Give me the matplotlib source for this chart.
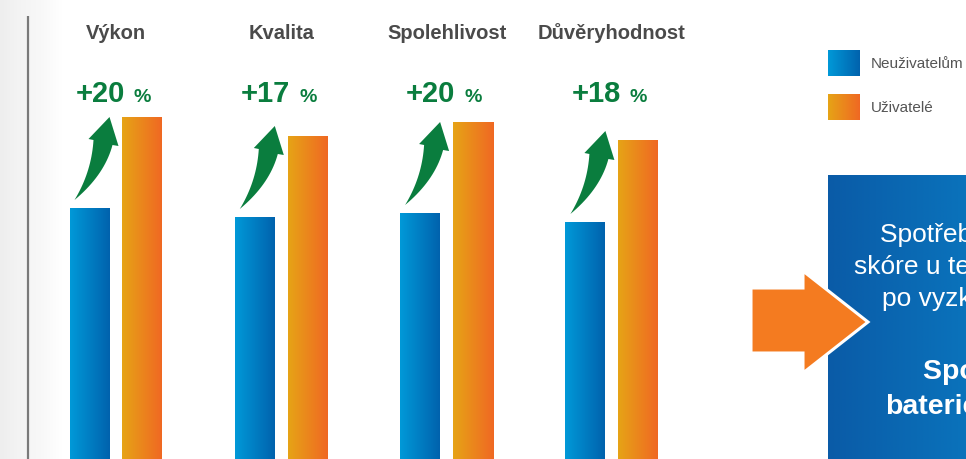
import numpy as np
import matplotlib
matplotlib.use("Agg")
import matplotlib.pyplot as plt
from matplotlib.colors import LinearSegmentedColormap
from matplotlib.patches import Polygon

# data
categories = ["Výkon", "Kvalita", "Spolehlivost", "Důvěryhodnost"]
non_users = [46.7, 45.8, 46.2, 45.3]
users = [55.8, 53.9, 55.3, 53.5]
increase = ["+20", "+17", "+20", "+18"]
legend_labels = ["Neuživatelům", "Uživatelé"]
box_lines = ["Spotřebitelé hodnotí", "skóre u testovaných", "po vyzkoušení"]
box_bold = ["Spokojenost s", "bateriemi"]

W, H = 966, 459
BLUE = ("#0099d8", "#0062ad")
ORANGE = ("#e6a416", "#f06823")
GREEN = "#0a7d3e"
SANS = ["Liberation Sans", "DejaVu Sans"]


def grad(axis, x0, x1, y0, y1, colors, z):
    cmap = LinearSegmentedColormap.from_list("g", list(colors))
    axis.imshow(np.linspace(0, 1, 256)[None, :], extent=[x0, x1, y0, y1],
                cmap=cmap, aspect="auto", origin="lower", zorder=z,
                interpolation="bilinear")


fig = plt.figure(figsize=(W / 100, H / 100), dpi=100)
ax = fig.add_axes([0, 0, 1, 1])
ax.axis("off")

# bar chart (group spacing ~165 px, first group at x=116 px)
step = 165.3
width = 40 / step
off = 26.5 / step
for i in range(len(categories)):
    grad(ax, i - off - width / 2, i - off + width / 2, 0, non_users[i], BLUE, 2)
    grad(ax, i + off - width / 2, i + off + width / 2, 0, users[i], ORANGE, 2)
ax.set_xlim(-116 / step, (W - 116) / step)
ax.set_ylim(21.6, 67.5)

tr = ax.get_xaxis_transform()
for i, cat in enumerate(categories):
    ax.text(i, 1 - 39 / H, cat, transform=tr, ha="center", va="baseline",
            fontsize=14.5, fontweight="bold", color="#4a4a4a", family=SANS)
    ax.annotate(increase[i], xy=(i, 1 - 102 / H), xycoords=tr,
                xytext=(9, 0), textcoords="offset pixels", ha="right",
                va="baseline", fontsize=21, fontweight="bold", color=GREEN,
                family=SANS)
    ax.annotate("%", xy=(i, 1 - 102 / H), xycoords=tr,
                xytext=(18, 0), textcoords="offset pixels", ha="left",
                va="baseline", fontsize=14, fontweight="bold", color=GREEN,
                family=SANS)

# overlay in pixel coords (y down)
ov = fig.add_axes([0, 0, 1, 1], zorder=3)
ov.patch.set_alpha(0)
ov.axis("off")

# left decoration
grad(ov, 0, 62, 0, H, ("#eeeeee", "#f4f4f4", "#f8f8f8", "#ffffff"), 0)
ov.plot([27.5, 27.5], [16, H], color="#7a7a7a", lw=1.6, solid_capstyle="butt")

# green arrows, placed from the blue bar tops
fig.canvas.draw()


def qbez(p0, c, p2, n=20):
    t = np.linspace(0, 1, n)[:, None]
    return (1 - t) ** 2 * np.array(p0) + 2 * (1 - t) * t * np.array(c) + t ** 2 * np.array(p2)


right = qbez((0, 0), (30, 25), (38, 55))
left = qbez((19, 60), (17, 28), (0, 0))
head = np.array([(44, 54), (35, 83), (14, 61)])
shape = np.vstack([right, head, left])
for i in range(len(categories)):
    bx, by = ax.transData.transform((i - off - width / 2, non_users[i]))
    tx, ty = bx + 5, (H - by) - 8
    pts = np.column_stack([tx + shape[:, 0], ty - shape[:, 1]])
    ov.add_patch(Polygon(pts, closed=True, facecolor=GREEN, edgecolor="none"))

# legend
for k, (lab, cols) in enumerate(zip(legend_labels, [BLUE, ORANGE])):
    y0 = 50 + 44 * k
    grad(ov, 828, 860, y0 + 26, y0, cols, 2)
    ov.text(871, y0 + 18, lab, ha="left", va="baseline", fontsize=11,
            color="#555555", family=SANS)

# blue box
grad(ov, 828, W + 40, H, 175, ("#0a5ba7", "#0a79c1"), 1)
xs = [880, 854, 882]
ys = [242, 274, 306]
for x, y, s in zip(xs, ys, box_lines):
    ov.text(x, y, s, ha="left", va="baseline", fontsize=19, color="white",
            family=SANS, zorder=5)
for x, y, s in zip([923, 885], [379, 414], box_bold):
    ov.text(x, y, s, ha="left", va="baseline", fontsize=20.5, color="white",
            fontweight="bold", family=SANS, zorder=5)

# orange arrow
arrow = [(751, 288), (803, 288), (803, 271), (868, 322), (803, 373),
         (803, 353), (751, 353)]
ov.add_patch(Polygon(arrow, closed=True, facecolor="#f47b20",
                     edgecolor="white", lw=2.2, joinstyle="miter", zorder=4))

ov.set_xlim(0, W)
ov.set_ylim(H, 0)

fig.savefig("out.png", dpi=100)
